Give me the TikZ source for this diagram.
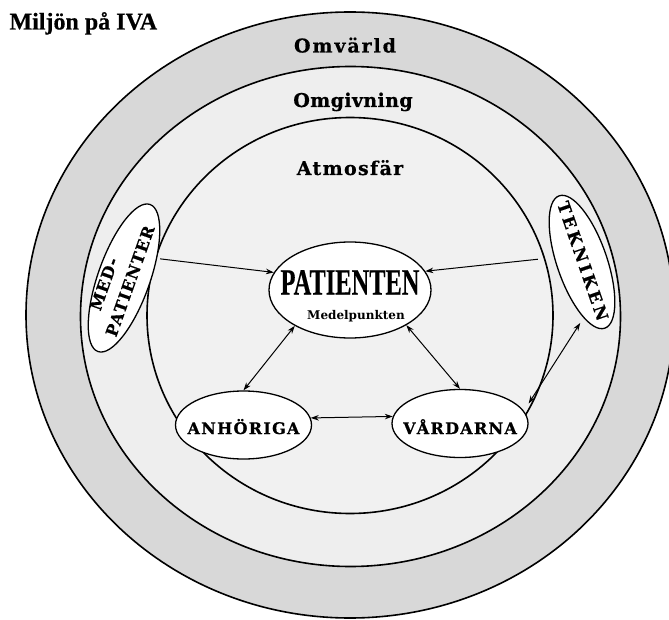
\documentclass[tikz,border=0pt]{standalone}
\usepackage{fontspec}
\usepackage{graphicx}
\usetikzlibrary{shapes.geometric,arrows.meta}
\setmainfont{DejaVu Serif}
\newfontfamily\omvfont{DejaVu Serif}[LetterSpace=10,FakeBold=0.6]
\newfontfamily\omgfont{DejaVu Serif}[LetterSpace=2,FakeBold=0.6]
\newfontfamily\atmfont{DejaVu Serif}[LetterSpace=7,FakeBold=0.6]
\newfontfamily\lblfont{DejaVu Serif}[LetterSpace=8,FakeBold=0.6]
\newfontfamily\tekfont{DejaVu Serif}[LetterSpace=18,FakeBold=0.6]
\newfontfamily\timesfont{Liberation Serif}[FakeBold=0.4]
\definecolor{outerring}{HTML}{D8D8D8}
\definecolor{midring}{HTML}{EEEEEE}
\definecolor{innerring}{HTML}{F1F1F1}
\tikzset{
  ringline/.style={line width=1.6pt, draw=black},
  oval/.style={ellipse, draw=black, line width=1.3pt, fill=white, inner sep=0pt},
  ringlabel/.style={anchor=base},
  ovallabel/.style={font=\lblfont\bfseries\fontsize{16}{18}\selectfont, anchor=base},
  rotlabel/.style={font=\lblfont\bfseries\fontsize{16}{18}\selectfont, inner sep=0pt},
  arr/.style={line width=1pt, -{Stealth[length=8pt,width=5.5pt]}},
  darr/.style={line width=1pt, {Stealth[length=8pt,width=5.5pt]}-{Stealth[length=8pt,width=5.5pt]}}
}
\begin{document}
\begin{tikzpicture}[x=1pt,y=-1pt]
\useasboundingbox (0,0) rectangle (669,620);
\begin{scope}
\clip (0,0) rectangle (669,620);
\fill[white] (0,0) rectangle (669,620);
\filldraw[ringline, fill=outerring] (350,315) ellipse [x radius=324, y radius=303];
\filldraw[ringline, fill=midring] (350.5,316.5) ellipse [x radius=270, y radius=250];
\filldraw[ringline, fill=innerring] (350,315.5) ellipse [x radius=203, y radius=198];
\end{scope}

\node[anchor=base west, font=\timesfont\bfseries\fontsize{24}{26}\selectfont] (title) at (6,29.5) {Miljön på IVA};
\node[ringlabel, font=\omvfont\bfseries\fontsize{19}{21}\selectfont] (omv) at (345,52.5) {Omvärld};
\node[ringlabel, font=\omgfont\bfseries\fontsize{19}{21}\selectfont] (omg) at (353,107) {Omgivning};
\node[ringlabel, font=\atmfont\bfseries\fontsize{19}{21}\selectfont] (atm) at (350,175) {Atmosfär};

% ovals
\node[oval, minimum width=162pt, minimum height=96pt] (pat) at (350,290) {};
\node[anchor=base, font=\timesfont\bfseries\fontsize{37}{40}\selectfont] (pattext) at (350,294.5) {\scalebox{0.66}[1]{PATIENTEN}};
\node[anchor=base, font=\bfseries\fontsize{12}{14}\selectfont] (patsub) at (356,319.5) {Medelpunkten};

\node[oval, minimum width=136pt, minimum height=68pt] (anh) at (243.5,425) {};
\node[ovallabel] (anhtext) at (243.5,434) {ANHÖRIGA};
\node[oval, minimum width=136pt, minimum height=68pt] (vard) at (460,423.5) {};
\node[ovallabel] (vardtext) at (460,434) {VÅRDARNA};

\node[oval, minimum width=156pt, minimum height=52pt, rotate=70.5] (med) at (124,278) {};
\node[rotlabel, rotate=70.5] (medtext1) at (104,284) {MED-};
\node[rotlabel, rotate=70.5] (medtext2) at (130,281) {PATIENTER};
\node[oval, minimum width=140pt, minimum height=50pt, rotate=-71] (tek) at (582,262) {};
\node[font=\tekfont\bfseries\fontsize{16.5}{18}\selectfont, rotate=-71, inner sep=0pt] (tektext) at (583,261) {TEKNIKEN};

% connectors
\draw[arr, shorten <=3pt] (med.-40) -- (pat.167);
\draw[arr, shorten <=16pt] (tek.242) -- (pat.14);
\draw[darr] (pat.213) -- (anh.north);
\draw[darr] (pat.-32) -- (vard.north);
\draw[darr] (anh.6) -- (vard.174);
\draw[darr] ([yshift=20pt]vard.east) -- ([yshift=-9pt]tek.-21);
\end{tikzpicture}
\end{document}
